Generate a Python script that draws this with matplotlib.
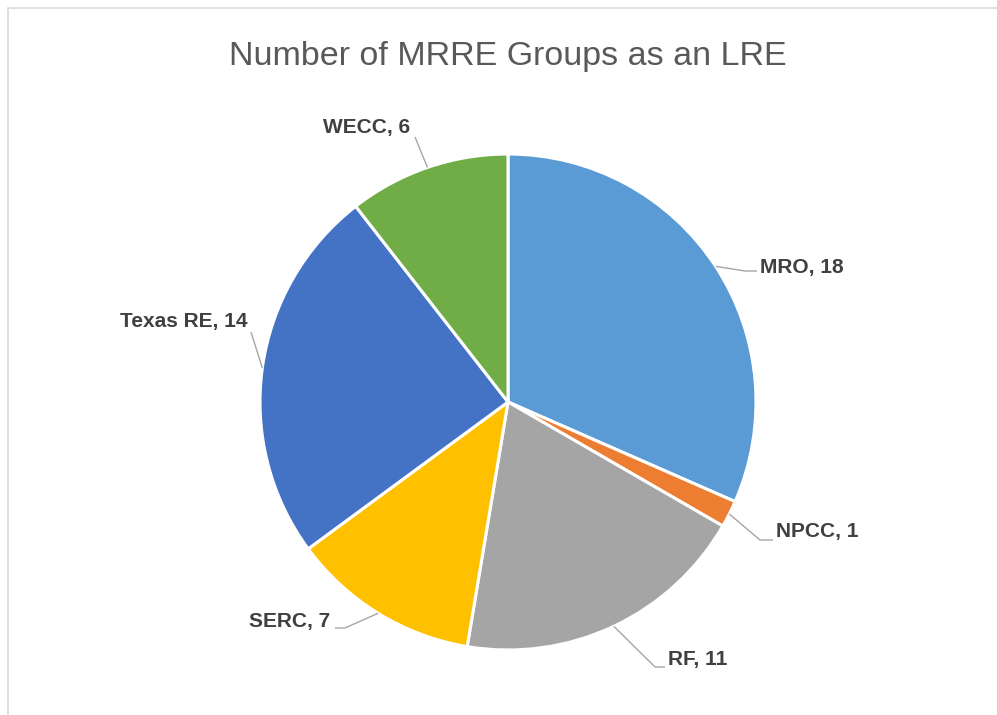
import matplotlib
matplotlib.use("Agg")
import matplotlib.pyplot as plt
import numpy as np
from matplotlib.patches import Rectangle

categories = ["MRO", "NPCC", "RF", "SERC", "Texas RE", "WECC"]
values = [18, 1, 11, 7, 14, 6]
colors = ["#5B9BD5", "#ED7D31", "#A5A5A5", "#FFC000", "#4472C4", "#70AD47"]
title = "Number of MRRE Groups as an LRE"

W, H = 997, 715
fig = plt.figure(figsize=(W / 100, H / 100), dpi=100)
ax = fig.add_axes([0, 0, 1, 1])

def py(y_img):
    return H - y_img

cx, cy, R = 508, py(402), 248
wedges, _ = ax.pie(values, colors=colors, startangle=90, counterclock=False,
                   center=(cx, cy), radius=R, frame=True,
                   wedgeprops=dict(edgecolor="white", linewidth=2.2))
ax.set_xlim(0, W)
ax.set_ylim(0, H)
ax.set_aspect("equal")
ax.axis("off")

# label layout (image pixel coords): elbow, end of horizontal, text x, text y, ha
layout = [
    ((745, 271), (757, 271), 760, 268, "left"),
    ((760, 540), (773, 540), 776, 531, "left"),
    ((655, 667), (665, 667), 668, 660, "left"),
    ((345, 628), (335, 628), 330, 621, "right"),
    ((251, 332), (251, 332), 247, 322, "right"),
    ((415, 137), (415, 137), 410, 128, "right"),
]
lab_font = ["Liberation Sans", "DejaVu Sans"]
for w, cat, val, (elb, end, tx, ty, ha) in zip(wedges, categories, values, layout):
    mid = np.deg2rad((w.theta1 + w.theta2) / 2)
    ex, ey = cx + R * np.cos(mid), cy + R * np.sin(mid)
    ax.plot([ex, elb[0], end[0]], [ey, py(elb[1]), py(end[1])],
            color="#A6A6A6", lw=1.0, solid_capstyle="butt")
    ax.text(tx, py(ty), f"{cat}, {val}", ha=ha, va="center", fontsize=15,
            fontweight="bold", color="#404040", family=lab_font)

ax.text(508, py(56), title, ha="center", va="center", fontsize=24.5,
        color="#595959", family=lab_font)

fig.patches.append(Rectangle((8 / W, -0.1), 1.2, (H - 8) / H + 0.1,
                             transform=fig.transFigure, fill=False,
                             edgecolor="#D9D9D9", lw=1.2))
fig.savefig("out.png", dpi=100, facecolor="white")
